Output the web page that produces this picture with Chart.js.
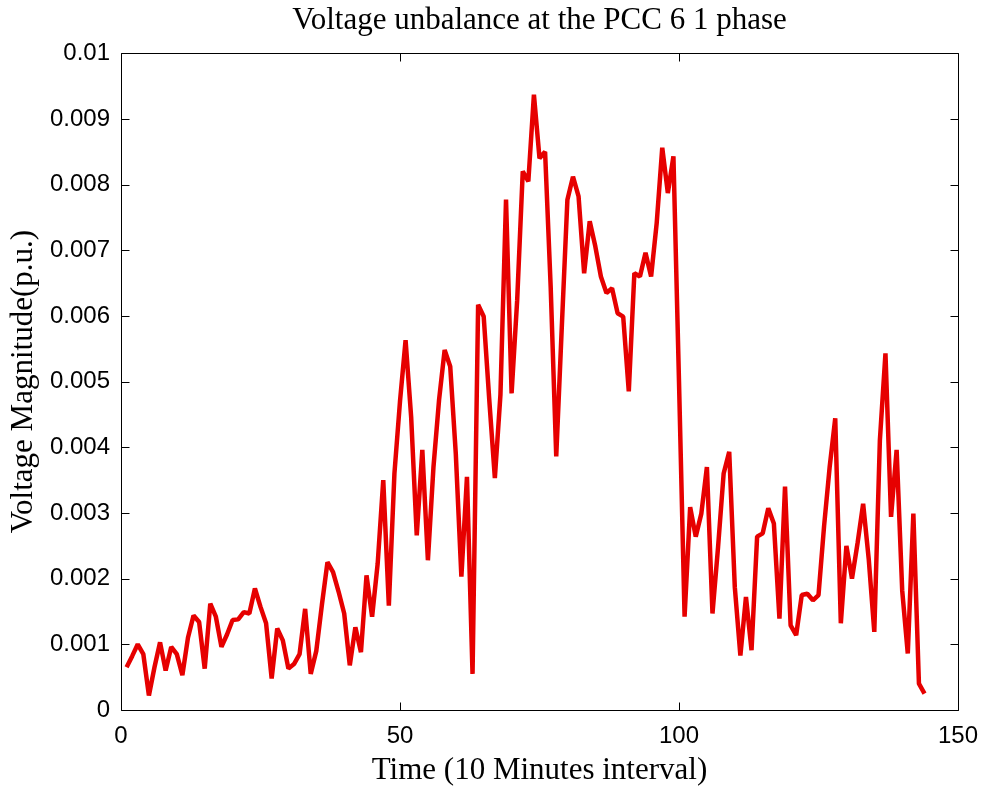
<!DOCTYPE html>
<html>
<head>
<meta charset="utf-8">
<title>Voltage unbalance at the PCC 6 1 phase</title>
<script src="https://cdn.jsdelivr.net/npm/chart.js@4.4.1/dist/chart.umd.min.js"></script>
<style>
	html, body { margin: 0; padding: 0; background: #fff; }
	canvas { display: block; }
</style>
</head>
<body>
<canvas id="myChart" width="984" height="789"></canvas>
<script>
// sample number, one sample every 10 minutes
let times = Array.from({ length: 144 }, (_, i) => i + 1);

// voltage unbalance at PCC 6, phase 1 (p.u.)
let unbalance = [
	0.00065, 0.00082, 0.00100, 0.00085, 0.00022, 0.00065, 0.00103, 0.00060, 0.00096, 0.00085,
	0.00053, 0.00110, 0.00144, 0.00134, 0.00063, 0.00162, 0.00142, 0.00096, 0.00115, 0.00137,
	0.00138, 0.00149, 0.00147, 0.00185, 0.00157, 0.00132, 0.00048, 0.00124, 0.00106, 0.00063,
	0.00070, 0.00085, 0.00154, 0.00055, 0.00090, 0.00160, 0.00225, 0.00210, 0.00180, 0.00147,
	0.00068, 0.00126, 0.00088, 0.00205, 0.00142, 0.00223, 0.00350, 0.00159, 0.00360, 0.00470,
	0.00563, 0.00446, 0.00266, 0.00396, 0.00228, 0.00370, 0.00472, 0.00548, 0.00523, 0.00390,
	0.00203, 0.00355, 0.00055, 0.00617, 0.00599, 0.00472, 0.00353, 0.00480, 0.00777, 0.00482,
	0.00624, 0.00820, 0.00805, 0.00937, 0.00840, 0.00850, 0.00645, 0.00386, 0.00584, 0.00777,
	0.00812, 0.00782, 0.00665, 0.00744, 0.00706, 0.00660, 0.00635, 0.00642, 0.00604, 0.00599,
	0.00485, 0.00665, 0.00660, 0.00696, 0.00660, 0.00741, 0.00856, 0.00787, 0.00843, 0.00500,
	0.00142, 0.00309, 0.00264, 0.00299, 0.00370, 0.00147, 0.00248, 0.00360, 0.00393, 0.00187,
	0.00083, 0.00172, 0.00091, 0.00264, 0.00269, 0.00307, 0.00284, 0.00139, 0.00340, 0.00129,
	0.00114, 0.00175, 0.00177, 0.00167, 0.00175, 0.00280, 0.00370, 0.00444, 0.00132, 0.00250,
	0.00200, 0.00254, 0.00314, 0.00230, 0.00119, 0.00411, 0.00543, 0.00294, 0.00396, 0.00182,
	0.00086, 0.00299, 0.00040, 0.00025,
];

let xTicks = [0, 50, 100, 150];
let xTickLabels = ["0", "50", "100", "150"];
let yTicks = [0, 0.001, 0.002, 0.003, 0.004, 0.005, 0.006, 0.007, 0.008, 0.009, 0.01];
let yTickLabels = ["0", "0.001", "0.002", "0.003", "0.004", "0.005", "0.006", "0.007", "0.008", "0.009", "0.01"];

let serif = "'Liberation Serif', 'Times New Roman', serif";

// axes box with inward tick marks on all four sides
const boxTicks = {
	id: "boxTicks",
	afterDatasetsDraw(chart) {
		const { ctx, chartArea: a, scales } = chart;
		const left = Math.round(a.left) + 0.5;
		const right = Math.round(a.right) + 0.5;
		const top = Math.round(a.top) + 0.5;
		const bottom = Math.round(a.bottom) + 0.5;
		const len = 8;
		ctx.save();
		ctx.strokeStyle = "#000";
		ctx.lineWidth = 1;
		ctx.beginPath();
		ctx.rect(left, top, right - left, bottom - top);
		scales.x.ticks.forEach((t) => {
			const px = Math.round(scales.x.getPixelForValue(t.value)) + 0.5;
			ctx.moveTo(px, bottom);
			ctx.lineTo(px, bottom - len);
			ctx.moveTo(px, top);
			ctx.lineTo(px, top + len);
		});
		scales.y.ticks.forEach((t) => {
			const py = Math.round(scales.y.getPixelForValue(t.value)) + 0.5;
			ctx.moveTo(left, py);
			ctx.lineTo(left + len, py);
			ctx.moveTo(right, py);
			ctx.lineTo(right - len, py);
		});
		ctx.stroke();
		ctx.restore();
	},
};

Chart.defaults.font.family = "'Liberation Sans', Arial, sans-serif";
Chart.defaults.color = "#000";

let ctx = document.getElementById("myChart").getContext("2d");
let myChart = new Chart(ctx, {
	type: "line",
	data: {
		datasets: [
			{
				data: times.map((t, i) => ({ x: t, y: unbalance[i] })),
				borderColor: "#e60000",
				borderWidth: 4.5,
				borderJoinStyle: "bevel",
				pointRadius: 0,
				tension: 0,
				fill: false,
			},
		],
	},
	options: {
		responsive: false,
		animation: false,
		devicePixelRatio: 1,
		layout: { padding: { left: 0, right: 26, top: 0, bottom: 0 } },
		plugins: {
			legend: { display: false },
			tooltip: { enabled: false },
			title: {
				display: true,
				fullSize: false,
				text: "Voltage unbalance at the PCC 6 1 phase",
				color: "#000",
				font: { family: serif, size: 31, weight: "normal" },
				padding: { top: 2, bottom: 14 },
			},
		},
		scales: {
			x: {
				type: "linear",
				min: 0,
				max: 150,
				grid: { display: false, drawTicks: false },
				border: { display: false },
				afterBuildTicks: (scale) => {
					scale.ticks = xTicks.map((v) => ({ value: v }));
				},
				afterFit: (scale) => {
					scale.height = 79;
					// end labels may hang past the box, as in the layout padding
					scale.paddingLeft = 0;
					scale.paddingRight = 0;
				},
				ticks: {
					padding: 12,
					maxRotation: 0,
					font: { size: 24 },
					callback: (value, index) => xTickLabels[index],
				},
				title: {
					display: true,
					text: "Time (10 Minutes interval)",
					font: { family: serif, size: 31 },
					padding: { top: 0, bottom: 0 },
				},
			},
			y: {
				min: 0,
				max: 0.01,
				grid: { display: false, drawTicks: false },
				border: { display: false },
				afterBuildTicks: (scale) => {
					scale.ticks = yTicks.map((v) => ({ value: v }));
				},
				afterFit: (scale) => {
					scale.width = 121;
				},
				ticks: {
					padding: 11,
					font: { size: 24 },
					callback: (value, index) => yTickLabels[index],
				},
				title: {
					display: true,
					text: "Voltage Magnitude(p.u.)",
					font: { family: serif, size: 31 },
					padding: { top: 5, bottom: 0 },
				},
			},
		},
	},
	plugins: [boxTicks],
});
</script>
</body>
</html>
